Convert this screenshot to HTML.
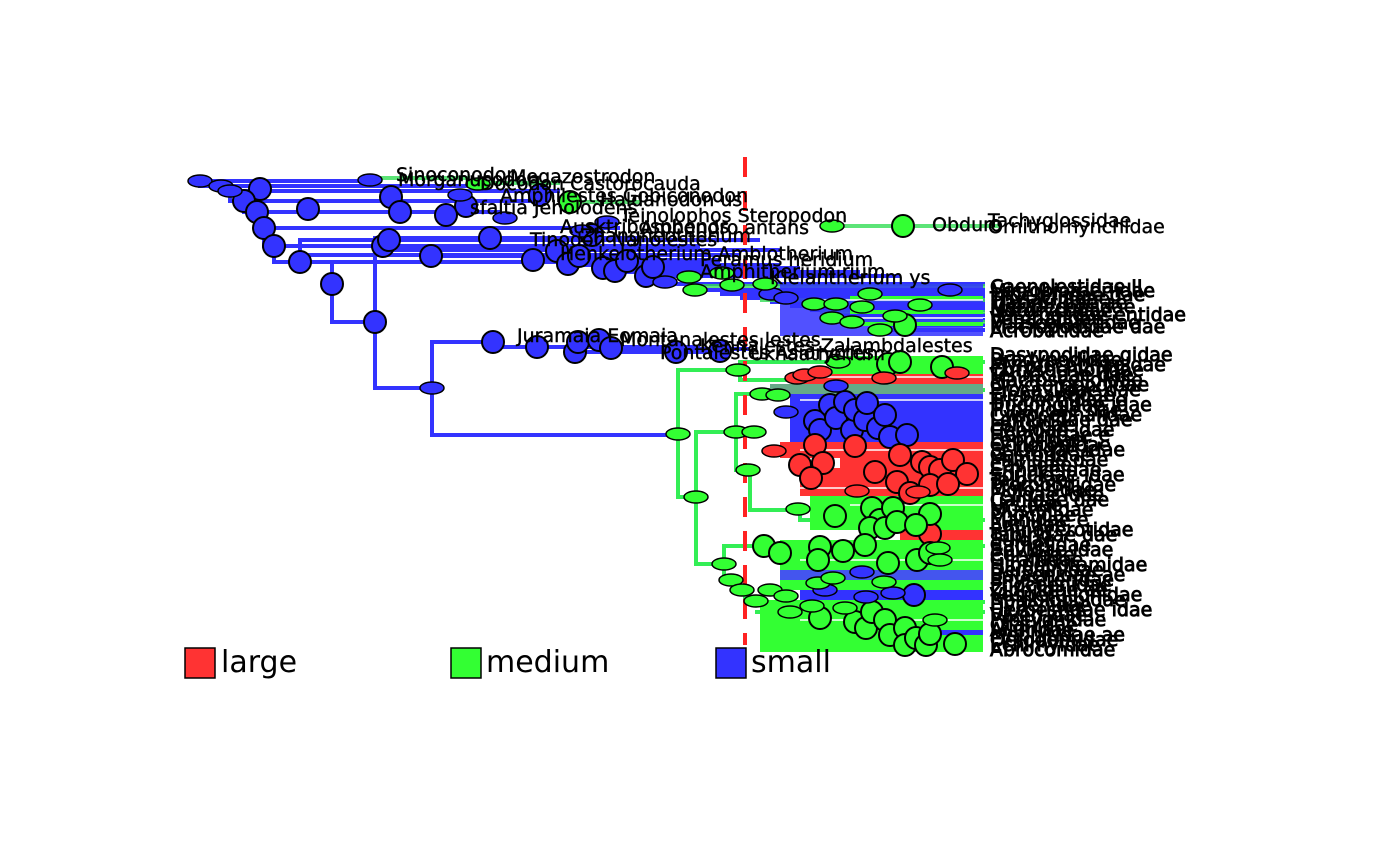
<!DOCTYPE html>
<html><head><meta charset="utf-8"><style>
html,body{margin:0;padding:0;background:#fff;width:1400px;height:866px;overflow:hidden}
svg{display:block}
text{font-family:"DejaVu Sans","Liberation Sans",sans-serif;fill:#000}
</style></head><body>
<svg width="1400" height="866" viewBox="0 0 1400 866" xmlns="http://www.w3.org/2000/svg">
<!-- blue stem branches -->
<g stroke="#3333ff" stroke-width="4" fill="none">
<path d="M200 181 H380 M200 181 V186 H480 M220 186 V191 H560 M230 191 V201 H540 M244 201 V212 H500 M257 212 V228 H620 M264 228 V246 H700 M274 246 V262 H720"/>
<path d="M300 262 V240 H600 M300 262 V255 H740 M332 284 V262 M332 284 V322 H375 M375 322 V238 H640 M375 322 V388 H432"/>
<path d="M375 250 H780 M390 240 H760 M430 256 H650 M490 238 H620 M530 260 H720 M560 265 H780 M600 268 H800 M620 272 H860 M640 276 H900"/>
<path d="M660 284 H985 M690 290 H985 M720 294 H985 M740 298 H985 M770 302 H985 M790 306 H985 M810 310 H985 M830 315 H985 M850 320 H985 M870 325 H985 M880 330 H985"/>
<path d="M432 388 V342 H500 M432 388 V435 H678 M500 342 V347 H680 M540 347 H700 M575 352 H720 M610 349 H750"/>
</g>
<g stroke="#33dd55" stroke-width="4" fill="none" opacity="0.8">
<path d="M370 178 H470 M480 183 H560 M570 202 H640 M830 226 H1000 M690 286 H985 M760 300 H985 M820 312 H985 M860 322 H985"/>
</g>
<!-- green clade -->
<g stroke="#33ee55" stroke-width="4" fill="none">
<path d="M678 434 V370 H740 M678 434 V497 H696 M740 370 V362 H985 M740 370 V380 H800 M696 497 V432 H736 M696 497 V564 H724"/>
<path d="M736 432 V394 H760 M736 432 V470 H750 M760 394 V390 H985 M750 470 V510 H800 M724 564 V546 H985 M724 564 V580 H735 M735 580 V590 H745 M745 590 V602 H985 M755 612 H985 M800 510 V520 H985"/>
</g>
<!-- right colour bands -->
<g>
<rect x="830" y="356" width="153" height="18" fill="#33ff33"/>
<rect x="800" y="374" width="183" height="10" fill="#ff3333"/>
<rect x="770" y="384" width="213" height="10" fill="#66aa88"/>
<rect x="790" y="394" width="193" height="48" fill="#3333ff"/>
<rect x="780" y="442" width="203" height="16" fill="#ff3333"/>
<rect x="840" y="458" width="143" height="10" fill="#ff3333"/>
<rect x="800" y="468" width="183" height="28" fill="#ff3333"/>
<rect x="810" y="496" width="173" height="34" fill="#33ff33"/>
<rect x="900" y="530" width="83" height="10" fill="#ff3333"/>
<rect x="780" y="540" width="203" height="30" fill="#33ff33"/>
<rect x="780" y="570" width="203" height="10" fill="#4455ee"/>
<rect x="780" y="580" width="203" height="10" fill="#33ff33"/>
<rect x="800" y="590" width="183" height="10" fill="#3333ff"/>
<rect x="760" y="600" width="223" height="52" fill="#33ff33"/>
<rect x="900" y="630" width="83" height="5" fill="#3333ff"/>
<rect x="780" y="284" width="203" height="52" fill="#3333ff" opacity="0.85"/>
<rect x="850" y="296" width="133" height="4" fill="#33ff33"/>
<rect x="850" y="310" width="133" height="4" fill="#33ff33"/>
<rect x="850" y="322" width="133" height="4" fill="#33ff33"/>
</g>
<g stroke="#fff" stroke-width="1.5">
<path d="M800 377 H983 M800 400 H983 M800 450 H983 M800 488 H983 M850 505 H983 M800 560 H983 M800 620 H983 M820 300 H983 M820 318 H983"/>
</g>
<line x1="745" y1="157" x2="745" y2="645" stroke="#ff2222" stroke-width="4" stroke-dasharray="20,14"/>
<g fill="#3333ff" stroke="#000" stroke-width="2">
<circle cx="260" cy="189" r="11"/><circle cx="244" cy="201" r="11"/><circle cx="257" cy="212" r="11"/><circle cx="264" cy="228" r="11"/><circle cx="274" cy="246" r="11"/><circle cx="300" cy="262" r="11"/><circle cx="332" cy="284" r="11"/><circle cx="375" cy="322" r="11"/>
<circle cx="308" cy="209" r="11"/><circle cx="391" cy="197" r="11"/><circle cx="400" cy="212" r="11"/><circle cx="446" cy="215" r="11"/><circle cx="466" cy="206" r="11"/><circle cx="540" cy="195" r="11"/>
<circle cx="383" cy="246" r="11"/><circle cx="389" cy="240" r="11"/><circle cx="431" cy="256" r="11"/><circle cx="490" cy="238" r="11"/><circle cx="533" cy="260" r="11"/><circle cx="557" cy="251" r="11"/><circle cx="568" cy="264" r="11"/><circle cx="579" cy="256" r="11"/><circle cx="592" cy="235" r="11"/>
<circle cx="603" cy="268" r="11"/><circle cx="615" cy="271" r="11"/><circle cx="627" cy="261" r="11"/><circle cx="646" cy="276" r="11"/><circle cx="653" cy="267" r="11"/>
<circle cx="493" cy="342" r="11"/><circle cx="537" cy="347" r="11"/><circle cx="575" cy="352" r="11"/><circle cx="578" cy="342" r="11"/><circle cx="599" cy="340" r="11"/><circle cx="611" cy="348" r="11"/><circle cx="676" cy="352" r="11"/><circle cx="720" cy="351" r="11"/>
<circle cx="815" cy="421" r="11"/><circle cx="820" cy="430" r="11"/><circle cx="830" cy="405" r="11"/><circle cx="836" cy="418" r="11"/><circle cx="845" cy="402" r="11"/><circle cx="852" cy="430" r="11"/><circle cx="855" cy="410" r="11"/><circle cx="865" cy="420" r="11"/><circle cx="867" cy="403" r="11"/><circle cx="878" cy="428" r="11"/><circle cx="885" cy="415" r="11"/><circle cx="890" cy="437" r="11"/><circle cx="907" cy="435" r="11"/><circle cx="914" cy="595" r="11"/>
</g>
<g fill="#ff3333" stroke="#000" stroke-width="2">
<circle cx="815" cy="445" r="11"/><circle cx="800" cy="465" r="11"/><circle cx="823" cy="463" r="11"/><circle cx="811" cy="478" r="11"/><circle cx="855" cy="446" r="11"/><circle cx="875" cy="472" r="11"/><circle cx="897" cy="482" r="11"/><circle cx="900" cy="455" r="11"/><circle cx="922" cy="462" r="11"/><circle cx="930" cy="467" r="11"/><circle cx="940" cy="470" r="11"/><circle cx="953" cy="460" r="11"/><circle cx="967" cy="474" r="11"/><circle cx="910" cy="493" r="11"/><circle cx="930" cy="485" r="11"/><circle cx="948" cy="484" r="11"/><circle cx="930" cy="534" r="11"/>
</g>
<g fill="#33ff33" stroke="#000" stroke-width="2">
<circle cx="570" cy="202" r="11"/><circle cx="903" cy="226" r="11"/><circle cx="905" cy="325" r="11"/><circle cx="888" cy="364" r="11"/><circle cx="900" cy="362" r="11"/><circle cx="942" cy="367" r="11"/>
<circle cx="835" cy="516" r="11"/><circle cx="872" cy="508" r="11"/><circle cx="880" cy="520" r="11"/><circle cx="893" cy="508" r="11"/><circle cx="870" cy="528" r="11"/><circle cx="865" cy="545" r="11"/><circle cx="885" cy="528" r="11"/><circle cx="897" cy="522" r="11"/><circle cx="930" cy="514" r="11"/><circle cx="916" cy="525" r="11"/>
<circle cx="764" cy="546" r="11"/><circle cx="780" cy="553" r="11"/><circle cx="820" cy="547" r="11"/><circle cx="818" cy="560" r="11"/><circle cx="843" cy="551" r="11"/><circle cx="888" cy="563" r="11"/><circle cx="917" cy="560" r="11"/><circle cx="930" cy="553" r="11"/>
<circle cx="820" cy="618" r="11"/><circle cx="855" cy="622" r="11"/><circle cx="866" cy="628" r="11"/><circle cx="872" cy="612" r="11"/><circle cx="885" cy="620" r="11"/><circle cx="890" cy="635" r="11"/><circle cx="905" cy="628" r="11"/><circle cx="905" cy="645" r="11"/><circle cx="916" cy="638" r="11"/><circle cx="926" cy="645" r="11"/><circle cx="930" cy="634" r="11"/><circle cx="955" cy="644" r="11"/>
</g>
<g stroke="#000" stroke-width="1.5">
<g fill="#3333ff">
<ellipse cx="200" cy="181" rx="12" ry="6"/><ellipse cx="221" cy="186" rx="12" ry="6"/><ellipse cx="230" cy="191" rx="12" ry="6"/><ellipse cx="370" cy="180" rx="12" ry="6"/><ellipse cx="432" cy="388" rx="12" ry="6"/>
<ellipse cx="460" cy="195" rx="12" ry="6"/><ellipse cx="505" cy="218" rx="12" ry="6"/><ellipse cx="582" cy="231" rx="12" ry="6"/><ellipse cx="607" cy="222" rx="12" ry="6"/>
<ellipse cx="665" cy="282" rx="12" ry="6"/><ellipse cx="771" cy="294" rx="12" ry="6"/><ellipse cx="786" cy="298" rx="12" ry="6"/><ellipse cx="950" cy="290" rx="12" ry="6"/>
<ellipse cx="786" cy="412" rx="12" ry="6"/><ellipse cx="836" cy="386" rx="12" ry="6"/><ellipse cx="862" cy="572" rx="12" ry="6"/><ellipse cx="825" cy="590" rx="12" ry="6"/><ellipse cx="866" cy="597" rx="12" ry="6"/><ellipse cx="893" cy="593" rx="12" ry="6"/>
</g>
<g fill="#33ff33">
<ellipse cx="478" cy="184" rx="12" ry="6"/><ellipse cx="832" cy="226" rx="12" ry="6"/><ellipse cx="678" cy="434" rx="12" ry="6"/><ellipse cx="696" cy="497" rx="12" ry="6"/><ellipse cx="738" cy="370" rx="12" ry="6"/><ellipse cx="838" cy="362" rx="12" ry="6"/>
<ellipse cx="689" cy="277" rx="12" ry="6"/><ellipse cx="695" cy="290" rx="12" ry="6"/><ellipse cx="722" cy="273" rx="12" ry="6"/><ellipse cx="732" cy="285" rx="12" ry="6"/><ellipse cx="765" cy="284" rx="12" ry="6"/><ellipse cx="814" cy="304" rx="12" ry="6"/><ellipse cx="836" cy="304" rx="12" ry="6"/><ellipse cx="862" cy="307" rx="12" ry="6"/><ellipse cx="832" cy="318" rx="12" ry="6"/><ellipse cx="852" cy="322" rx="12" ry="6"/><ellipse cx="880" cy="330" rx="12" ry="6"/><ellipse cx="895" cy="316" rx="12" ry="6"/><ellipse cx="920" cy="305" rx="12" ry="6"/><ellipse cx="870" cy="294" rx="12" ry="6"/>
<ellipse cx="736" cy="432" rx="12" ry="6"/><ellipse cx="754" cy="432" rx="12" ry="6"/><ellipse cx="748" cy="470" rx="12" ry="6"/><ellipse cx="762" cy="394" rx="12" ry="6"/><ellipse cx="778" cy="395" rx="12" ry="6"/><ellipse cx="798" cy="509" rx="12" ry="6"/>
<ellipse cx="724" cy="564" rx="12" ry="6"/><ellipse cx="731" cy="580" rx="12" ry="6"/><ellipse cx="742" cy="590" rx="12" ry="6"/><ellipse cx="756" cy="601" rx="12" ry="6"/><ellipse cx="770" cy="590" rx="12" ry="6"/><ellipse cx="786" cy="596" rx="12" ry="6"/><ellipse cx="790" cy="612" rx="12" ry="6"/><ellipse cx="812" cy="606" rx="12" ry="6"/><ellipse cx="818" cy="583" rx="12" ry="6"/><ellipse cx="833" cy="578" rx="12" ry="6"/><ellipse cx="845" cy="608" rx="12" ry="6"/><ellipse cx="884" cy="582" rx="12" ry="6"/><ellipse cx="935" cy="620" rx="12" ry="6"/><ellipse cx="938" cy="548" rx="12" ry="6"/><ellipse cx="940" cy="560" rx="12" ry="6"/>
</g>
<g fill="#ff3333">
<ellipse cx="797" cy="378" rx="12" ry="6"/><ellipse cx="805" cy="375" rx="12" ry="6"/><ellipse cx="820" cy="372" rx="12" ry="6"/><ellipse cx="884" cy="378" rx="12" ry="6"/><ellipse cx="957" cy="373" rx="12" ry="6"/><ellipse cx="774" cy="451" rx="12" ry="6"/><ellipse cx="857" cy="491" rx="12" ry="6"/><ellipse cx="918" cy="492" rx="12" ry="6"/>
</g>
</g>
<g font-size="19" stroke="#000" stroke-width="0.4">
<text x="396" y="181">Sinoconodon</text><text x="398" y="186">Morganucodon</text><text x="510" y="183">Megazostrodon</text><text x="480" y="190">Docodon Castorocauda</text>
<text x="500" y="202">Amphilestes Gobiconodon</text><text x="470" y="214">sfaltia Jeholodens</text><text x="600" y="206">Haldanodon us</text><text x="620" y="222">Teinolophos Steropodon</text>
<text x="560" y="233">Ausktribosphenos</text><text x="640" y="234">Ambondro antans</text><text x="530" y="246">Tinodon Nanolestes</text><text x="580" y="242">Zhangheotherium</text>
<text x="560" y="260">Henkelotherium Amblotherium</text><text x="700" y="266">Peramus heridium</text><text x="700" y="278">Amphitherium rium</text><text x="770" y="284">Kielantherium ys</text>
<text x="932" y="231">Obduro</text><text x="988" y="227">Tachyglossidae</text><text x="988" y="233">Ornithorhynchidae</text>
<text x="517" y="342">Juramaia Eomaia</text><text x="620" y="346">Montanalestes lestes</text><text x="660" y="359">Pontalestes Asioryctes</text><text x="700" y="352">Kennalestes Zalambdalestes</text><text x="750" y="360">Ukhaatherium</text>
</g>
<g font-size="19" stroke="#000" stroke-width="0.9">
<text x="990" y="293">Caenolestidae II</text><text x="990" y="297">Microbiotheriidae</text><text x="990" y="301">Didelphidae dae</text><text x="990" y="305">Thylacinidae</text><text x="990" y="309">Dasyuridae ae</text><text x="990" y="313">Myrmecobiidae</text><text x="990" y="317">Notoryctidae</text><text x="990" y="321">Peramelidae entidae</text><text x="990" y="325">Vombatidae</text><text x="990" y="329">Phascolarctidae</text><text x="990" y="333">Macropodidae dae</text><text x="990" y="337">Acrobatidae</text>
</g>
<g font-size="19" stroke="#000" stroke-width="0.9">
<text x="990" y="361">Dasypodidae gidae</text><text x="990" y="366">Bradypodidae</text><text x="990" y="371">Myrmecophagidae</text><text x="990" y="376">Chrysochloridae</text><text x="990" y="381">Tenrecidae dae</text><text x="990" y="386">Macroscelididae</text><text x="990" y="391">Orycteropodidae</text><text x="990" y="396">Procaviidae dae</text><text x="990" y="401">Elephantidae</text><text x="990" y="406">Trichechidae e</text><text x="990" y="411">Dugongidae idae</text><text x="990" y="416">Tupaiidae dae</text><text x="990" y="421">Cynocephalidae</text><text x="990" y="426">Lemuridae dae</text><text x="990" y="431">Lorisidae</text><text x="990" y="436">Cebidae idae</text><text x="990" y="441">Hominidae e</text><text x="990" y="446">Leporidae</text><text x="990" y="451">Ochotonidae</text><text x="990" y="456">Sciuridae idae</text><text x="990" y="461">Castoridae</text><text x="990" y="466">Muridae dae</text><text x="990" y="471">Caviidae</text><text x="990" y="476">Erinaceidae</text><text x="990" y="481">Soricidae idae</text><text x="990" y="486">Talpidae</text><text x="990" y="491">Pteropodidae</text><text x="990" y="496">Molossidae</text><text x="990" y="501">Felidae idae</text><text x="990" y="506">Canidae dae</text><text x="990" y="511">Ursidae</text><text x="990" y="516">Mustelidae</text><text x="990" y="521">Phocidae</text><text x="990" y="526">Manidae e</text><text x="990" y="531">Equidae</text><text x="990" y="536">Rhinocerotidae</text><text x="990" y="541">Tapiridae dae</text><text x="990" y="546">Suidae</text><text x="990" y="551">Camelidae</text><text x="990" y="556">Bovidae idae</text><text x="990" y="561">Cervidae</text><text x="990" y="566">Giraffidae</text><text x="990" y="571">Hippopotamidae</text><text x="990" y="576">Delphinidae</text><text x="990" y="581">Balaenidae ae</text><text x="990" y="586">Physeteridae</text><text x="990" y="591">Phocoenidae</text><text x="990" y="596">Ziphiidae ae</text><text x="990" y="601">Vespertilionidae</text><text x="990" y="606">Rhinolophidae</text><text x="990" y="611">Hyaenidae</text><text x="990" y="616">Herpestidae idae</text><text x="990" y="621">Viverridae</text><text x="990" y="626">Procyonidae</text><text x="990" y="631">Otariidae</text><text x="990" y="636">Ailuridae</text><text x="990" y="641">Mephitidae ae</text><text x="990" y="646">Octodontidae</text><text x="990" y="651">Echimyidae</text><text x="990" y="656">Abrocomidae</text>
</g>
<rect x="185" y="648" width="30" height="30" fill="#ff3333" stroke="#000" stroke-width="1.5"/>
<text x="221" y="672" font-size="30">large</text>
<rect x="451" y="648" width="30" height="30" fill="#33ff33" stroke="#000" stroke-width="1.5"/>
<text x="486" y="672" font-size="30">medium</text>
<rect x="716" y="648" width="30" height="30" fill="#3333ff" stroke="#000" stroke-width="1.5"/>
<text x="751" y="672" font-size="30">small</text>
</svg>
</body></html>
